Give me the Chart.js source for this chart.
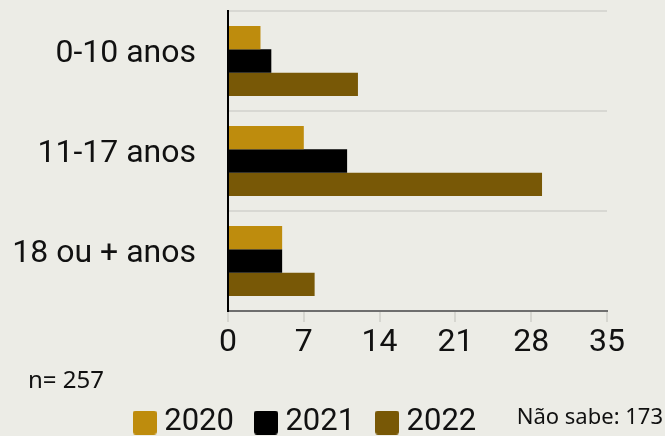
<!DOCTYPE html>
<html>
<head>
<meta charset="utf-8">
<script src="https://cdn.jsdelivr.net/npm/chart.js@4"></script>
<style>
  html, body { margin: 0; padding: 0; background: #ecece6; }
  #wrap { width: 665px; height: 436px; }
</style>
</head>
<body>
<div id="wrap"><canvas id="faixa-etaria-chart"></canvas></div>
<script>
// faixas etarias
const categorias = ['0-10 anos', '11-17 anos', '18 ou + anos']
const anos = ['2020', '2021', '2022']
const valores2020 = [3, 7, 5]
const valores2021 = [4, 11, 5]
const valores2022 = [12, 29, 8]
const xTicks = [0, 7, 14, 21, 28, 35]
const nTotal = 'n= 257'
const naoSabe = 'Não sabe: 173'

const cores = ['#be8c0d', '#000000', '#785806']

const canvas = document.getElementById('faixa-etaria-chart')

// quadradinho da legenda (24x24, cantos arredondados)
function legendBox(cor){
    let c = document.createElement('canvas')
    c.width = 24
    c.height = 24
    let g = c.getContext('2d')
    g.fillStyle = cor
    g.beginPath()
    g.roundRect(0, 0, 24, 24, 3)
    g.fill()
    return c
}

// textos soltos (n e nao sabe)
const notasPlugin = {
    id: 'notas',
    afterDraw(chart){
        const ctx = chart.ctx
        ctx.save()
        ctx.fillStyle = '#111'
        ctx.textBaseline = 'middle'
        ctx.font = '24px "Noto Sans"'
        ctx.textAlign = 'left'
        ctx.fillText(nTotal, 28, 381)
        ctx.font = '22px "Noto Sans"'
        ctx.textAlign = 'right'
        ctx.fillText(naoSabe, 663, 418)
        ctx.restore()
    }
}

let chart = new Chart(canvas, {
    type: 'bar',
    data: {
        labels: categorias,
        datasets: anos.map((ano, i) => ({
            label: ano,
            data: [valores2020, valores2021, valores2022][i],
            backgroundColor: cores[i],
            pointStyle: legendBox(cores[i])
        }))
    },
    options: {
        indexAxis: 'y',
        responsive: true,
        maintainAspectRatio: false,
        animation: false,
        datasets: {
            bar: { categoryPercentage: 0.7, barPercentage: 1, borderWidth: 0 }
        },
        layout: { padding: { top: 11, left: 10, right: 58, bottom: -12 } },
        scales: {
            x: {
                min: 0,
                max: 35,
                afterBuildTicks: (scale) => { scale.ticks = xTicks.map(v => ({ value: v })) },
                afterFit: (scale) => { scale.height = 68 },
                grid: { drawOnChartArea: false, drawTicks: true, tickLength: 11, color: '#d6d6d0', lineWidth: 2 },
                border: { display: true, color: '#6e6e6e', width: 2 },
                ticks: { color: '#111', padding: 2, font: { family: 'Roboto', size: 32 } }
            },
            y: {
                afterFit: (scale) => {
                    scale.width = 218
                    scale.paddingTop = 0
                    scale.paddingBottom = 0
                },
                grid: { drawTicks: false, color: '#d8d8d3', lineWidth: 2 },
                border: { display: true, color: '#000', width: 2 },
                ticks: { color: '#111', padding: 32, labelOffset: -7, font: { family: 'Roboto', size: 32 } }
            }
        },
        plugins: {
            tooltip: { enabled: false },
            legend: {
                position: 'bottom',
                align: 'center',
                labels: {
                    color: '#111',
                    usePointStyle: true,
                    pointStyleWidth: 8,
                    boxHeight: 24,
                    padding: 28,
                    font: { family: 'Roboto', size: 31 }
                }
            }
        }
    },
    plugins: [notasPlugin]
})
</script>
</body>
</html>
